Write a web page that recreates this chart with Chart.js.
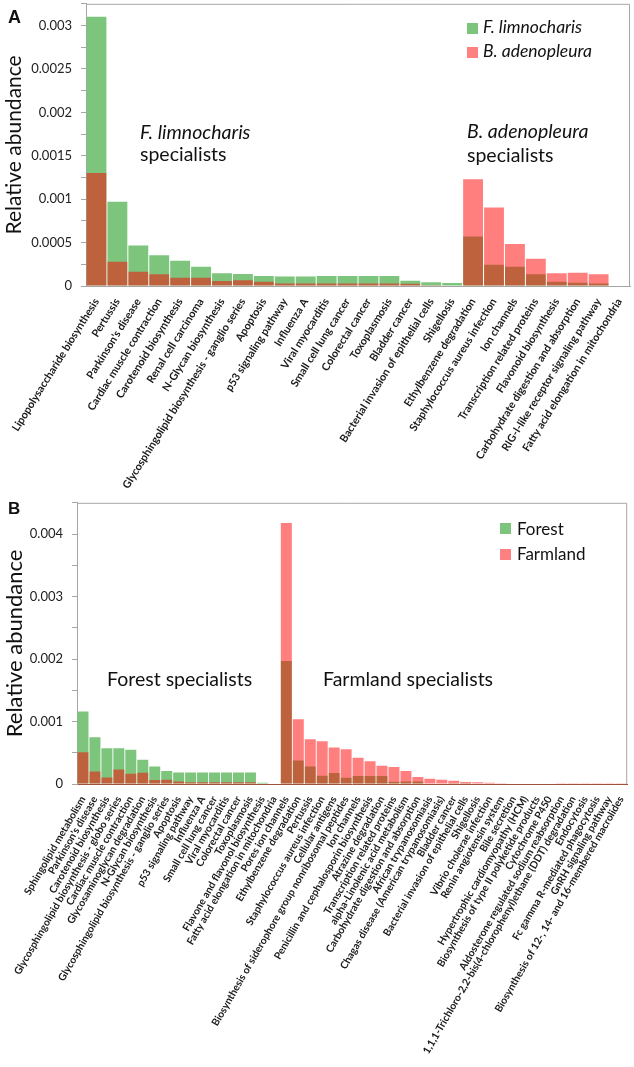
<!DOCTYPE html>
<html>
<head>
<meta charset="utf-8">
<script src="https://cdn.jsdelivr.net/npm/chart.js@4.4.0/dist/chart.umd.min.js"></script>
<style>
  body { margin: 0; background: #fff; }
  #wrap { position: relative; width: 634px; height: 1067px; overflow: hidden; font-family: Lato, sans-serif; color: #111; }
  canvas { position: absolute; left: 0; }
  .note { position: absolute; white-space: nowrap; line-height: 1; }
  .sq { position: absolute; width: 11px; height: 11px; }
  .tag { position: absolute; font-family: "Liberation Sans", Arial, sans-serif; font-weight: bold; line-height: 1; }
</style>
</head>
<body>
<div id="wrap">
  <!-- canvases start a bit above their plots: chart.js keeps ~17px over the top tick -->
  <canvas id="chartA" width="634" height="508" style="top:-13px"></canvas>
  <canvas id="chartB" width="634" height="581" style="top:486px"></canvas>

  <div class="tag" style="left:8px;top:8px;font-size:18px">A</div>
  <div class="note" style="left:140px;top:122px;font-size:19.5px;font-style:italic">F. limnocharis</div>
  <div class="note" style="left:140px;top:144px;font-size:19.5px">specialists</div>
  <div class="note" style="left:467px;top:121px;font-size:19.5px;font-style:italic">B. adenopleura</div>
  <div class="note" style="left:467px;top:145px;font-size:19.5px">specialists</div>
  <div class="sq" style="left:467px;top:23px;background:#7dc47d"></div>
  <div class="note" style="left:483px;top:18px;font-size:17.5px;font-style:italic">F. limnocharis</div>
  <div class="sq" style="left:467px;top:47px;background:#ff8080"></div>
  <div class="note" style="left:483px;top:42px;font-size:17.5px;font-style:italic">B. adenopleura</div>

  <div class="tag" style="left:8px;top:500px;font-size:17px">B</div>
  <div class="note" style="left:107px;top:669px;font-size:19.5px">Forest specialists</div>
  <div class="note" style="left:323px;top:669px;font-size:19.5px">Farmland specialists</div>
  <div class="sq" style="left:500px;top:523px;background:#7dc47d"></div>
  <div class="note" style="left:517px;top:520px;font-size:17px">Forest</div>
  <div class="sq" style="left:500px;top:549px;background:#ff8080"></div>
  <div class="note" style="left:517px;top:545px;font-size:17px">Farmland</div>
</div>

<script>
// panel A: F. limnocharis vs B. adenopleura
const pathwaysA = [
  'Lipopolysaccharide biosynthesis', 'Pertussis', "Parkinson's disease", 'Cardiac muscle contraction',
  'Carotenoid biosynthesis', 'Renal cell carcinoma', 'N-Glycan biosynthesis',
  'Glycosphingolipid biosynthesis - ganglio series', 'Apoptosis', 'p53 signaling pathway', 'Influenza A',
  'Viral myocarditis', 'Small cell lung cancer', 'Colorectal cancer', 'Toxoplasmosis', 'Bladder cancer',
  'Bacterial invasion of epithelial cells', 'Shigellosis', 'Ethylbenzene degradation',
  'Staphylococcus aureus infection', 'Ion channels', 'Transcription related proteins',
  'Flavonoid biosynthesis', 'Carbohydrate digestion and absorption', 'RIG-I-like receptor signaling pathway',
  'Fatty acid elongation in mitochondria'
];
const limnocharis = [
  0.0031, 0.00097, 0.000465, 0.000354, 0.000292, 0.000223, 0.000146, 0.000138, 0.000115, 0.00011, 0.00011,
  0.000115, 0.000115, 0.000115, 0.000115, 0.00006, 0.000042, 0.000035, 0.00057, 0.000246, 0.000223,
  0.000135, 0.00005, 0.000038, 0.00003, 0
];
const adenopleura = [
  0.0013, 0.00028, 0.000165, 0.000135, 0.000096, 0.000096, 0.000058, 0.000065, 0.00005, 0.00003, 0.00003,
  0.00003, 0.00003, 0.00003, 0.00003, 0.000027, 0.00001, 0.000005, 0.00123, 0.000904, 0.000485,
  0.000315, 0.000146, 0.000154, 0.000135, 0
];

// panel B: Forest vs Farmland
const pathwaysB = [
  'Sphingolipid metabolism', "Parkinson's disease", 'Carotenoid biosynthesis',
  'Glycosphingolipid biosynthesis - globo series', 'Cardiac muscle contraction',
  'Glycosaminoglycan degradation', 'N-Glycan biosynthesis', 'Glycosphingolipid biosynthesis - ganglio series',
  'Apoptosis', 'p53 signaling pathway', 'Influenza A', 'Small cell lung cancer', 'Viral myocarditis',
  'Colorectal cancer', 'Toxoplasmosis', 'Flavone and flavonol biosynthesis',
  'Fatty acid elongation in mitochondria', 'Pores ion channels', 'Ethylbenzene degradation', 'Pertussis',
  'Staphylococcus aureus infection', 'Cellular antigens',
  'Biosynthesis of siderophore group nonribosomal peptides', 'Ion channels',
  'Penicillin and cephalosporin biosynthesis', 'Atrazine degradation', 'Transcription related proteins',
  'alpha-Linolenic acid metabolism', 'Carbohydrate digestion and absorption', 'African trypanosomiasis',
  'Chagas disease (American trypanosomiasis)', 'Bladder cancer', 'Bacterial invasion of epithelial cells',
  'Shigellosis', 'Vibrio cholerae infection', 'Renin angiotensin system', 'Bile secretion',
  'Hypertrophic cardiomyopathy (HCM)', 'Biosynthesis of type II polyketide products', 'Cytochrome P450',
  'Aldosterone regulated sodium reabsorption',
  '1,1,1-Trichloro-2,2-bis(4-chlorophenyl)ethane (DDT) degradation', 'Endocytosis',
  'Fc gamma R-mediated phagocytosis', 'GnRH signaling pathway',
  'Biosynthesis of 12-, 14- and 16-membered macrolides'
];
const forest = [
  0.00116, 0.00075, 0.000574, 0.000574, 0.00055, 0.00039, 0.00028, 0.000207, 0.000185, 0.000185,
  0.000185, 0.000185, 0.000185, 0.000185, 0.000185, 0.00002, 0, 0.00197, 0.000376, 0.00028,
  0.000132, 0.000175, 0.0001, 0.000127, 0.000127, 0.00013, 0.000037, 0.00004, 0.00004, 0.00001,
  0.00001, 0.000005, 0.000003, 0, 0, 0, 0, 0, 0, 0, 0, 0, 0, 0, 0, 0
];
const farmland = [
  0.00051, 0.0002, 0.000105, 0.000233, 0.000164, 0.00018, 0.000064, 0.00007, 0.00004, 0.00003,
  0.00003, 0.00003, 0.00003, 0.00003, 0.00003, 0, 0, 0.004175, 0.001036, 0.000717,
  0.000685, 0.000583, 0.000558, 0.000419, 0.000366, 0.000292, 0.000271, 0.000207, 0.000112, 0.000085,
  0.00007, 0.000053, 0.000032, 0.00003, 0.00002, 0.000012, 0.00001, 0.00001, 0.000008, 0.000007,
  0.000006, 0.000005, 0.000005, 0.000004, 0.000004, 0.000004
];

const green = '#7dc47d';
const red = 'rgba(255, 0, 0, 0.5)';

// thin grey box on top and right of the plot
const frame = {
  id: 'frame',
  afterDatasetsDraw(chart) {
    const { ctx, chartArea: a } = chart;
    ctx.save();
    ctx.strokeStyle = '#a6a6a6';
    ctx.lineWidth = 1;
    ctx.beginPath();
    ctx.moveTo(a.left, a.top + 0.5);
    ctx.lineTo(a.right - 0.5, a.top + 0.5);
    ctx.lineTo(a.right - 0.5, a.bottom);
    ctx.stroke();
    ctx.restore();
  }
};

function makeChart(id, labels, greenData, redData, o) {
  const ctx = document.getElementById(id).getContext('2d');
  return new Chart(ctx, {
    type: 'bar',
    data: {
      labels: labels,
      datasets: [
        { label: o.names[0], data: greenData, backgroundColor: green, grouped: false, order: 2,
          barPercentage: o.barPct, categoryPercentage: 1 },
        { label: o.names[1], data: redData, backgroundColor: red, grouped: false, order: 1,
          barPercentage: o.barPct, categoryPercentage: 1 }
      ]
    },
    options: {
      responsive: false,
      animation: false,
      layout: { padding: o.padding },
      plugins: { legend: { display: false }, tooltip: { enabled: false } },
      scales: {
        x: {
          grid: { display: false },
          border: { color: o.xLine },
          ticks: {
            autoSkip: false, minRotation: o.rot, maxRotation: o.rot, padding: 2,
            color: '#1a1a1a', font: { family: 'Lato', size: o.labelSize, weight: 'bold' }
          },
          afterFit: s => { s.height = o.xHeight; }
        },
        y: {
          min: 0, max: o.max,
          border: { color: '#a6a6a6' },
          grid: { drawOnChartArea: false, tickLength: 5, color: '#a6a6a6' },
          ticks: {
            stepSize: o.minor, padding: 9, color: '#222',
            font: { family: 'Lato', size: 13 },
            callback: v => (Math.round(v / o.minor) % o.every === 0 ? String(+v.toFixed(5)) : '')
          },
          title: {
            display: true, text: 'Relative abundance', color: '#111',
            font: { family: 'Lato', size: o.titleSize }, padding: { top: 2, bottom: 0 }
          },
          afterFit: s => { s.width = o.yWidth; }
        }
      }
    },
    plugins: [frame]
  });
}

makeChart('chartA', pathwaysA, limnocharis, adenopleura, {
  names: ['F. limnocharis', 'B. adenopleura'],
  max: 0.00325, minor: 0.00025, every: 2, barPct: 0.95,
  padding: { left: 0, right: 4, top: 0, bottom: 0 },
  yWidth: 86, xHeight: 209, rot: 58, labelSize: 10.8, titleSize: 21, xLine: '#a6a6a6'
});

makeChart('chartB', pathwaysB, forest, farmland, {
  names: ['Forest', 'Farmland'],
  max: 0.0045, minor: 0.0005, every: 2, barPct: 0.92,
  padding: { left: 0, right: 5, top: 0, bottom: 0 },
  yWidth: 77, xHeight: 283, rot: 60, labelSize: 10.3, titleSize: 22, xLine: '#a0523a'
});
</script>
</body>
</html>
